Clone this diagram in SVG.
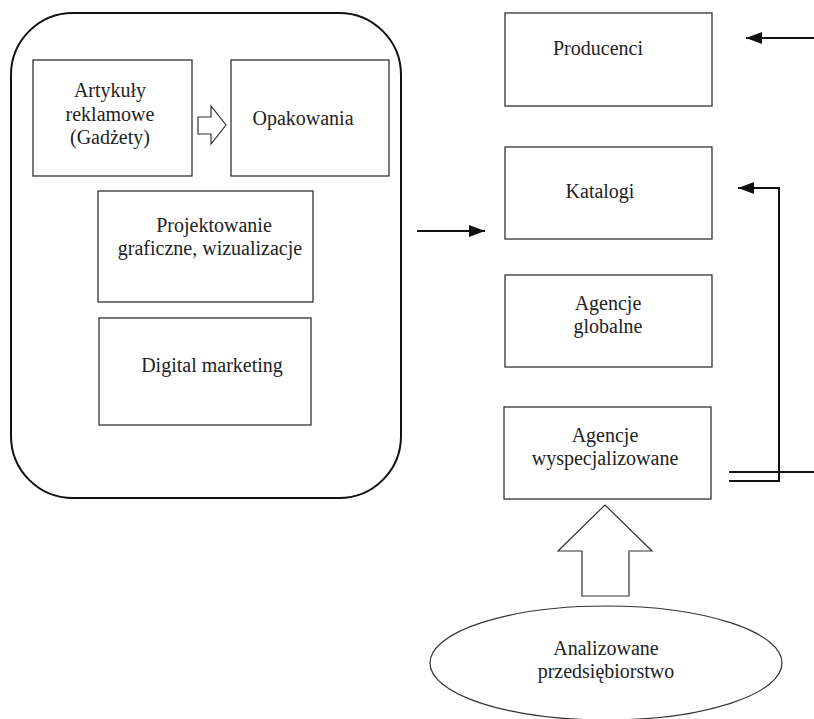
<svg xmlns="http://www.w3.org/2000/svg" width="814" height="719" viewBox="0 0 814 719">
<style>
.box{fill:#fff;stroke:#333;stroke-width:1.3}
.t{font-family:'Liberation Serif','Times New Roman','DejaVu Serif',serif;font-size:20px;fill:#222;text-anchor:middle}
.ln{fill:none;stroke:#111;stroke-width:2}
.hol{fill:#fff;stroke:#333;stroke-width:1.2}
</style>
<defs>
<marker id="ah" markerWidth="16" markerHeight="12" refX="16" refY="6" orient="auto" markerUnits="userSpaceOnUse">
<path d="M0,0 L16,6 L0,12 Z" fill="#111"/>
</marker>
</defs>
<rect width="814" height="719" fill="#fff"/>
<g id="container">
<rect x="11" y="13" width="390" height="485" rx="62" ry="62" fill="none" stroke="#111" stroke-width="2"/>
</g>
<g id="artykuly">
<rect class="box" x="33" y="60" width="159" height="116"/>
<text class="t" x="110" y="97" font-family="Liberation Serif, serif">Artykuły</text>
<text class="t" x="110" y="121" font-family="Liberation Serif, serif">reklamowe</text>
<text class="t" x="110" y="144" font-family="Liberation Serif, serif">(Gadżety)</text>
</g>
<g id="opakowania">
<rect class="box" x="231" y="60" width="158" height="116"/>
<text class="t" x="303" y="125">Opakowania</text>
</g>
<g id="projektowanie">
<rect class="box" x="98" y="191" width="215" height="111"/>
<text class="t" x="214" y="232">Projektowanie</text>
<text class="t" x="210" y="255">graficzne, wizualizacje</text>
</g>
<g id="digital">
<rect class="box" x="99" y="318" width="212" height="107"/>
<text class="t" x="212" y="372">Digital marketing</text>
</g>
<g id="producenci">
<rect class="box" x="505" y="13" width="207" height="93"/>
<text class="t" x="598" y="55">Producenci</text>
</g>
<g id="katalogi">
<rect class="box" x="505" y="147" width="207" height="92"/>
<text class="t" x="600" y="198">Katalogi</text>
</g>
<g id="agencje-globalne">
<rect class="box" x="505" y="275" width="207" height="92"/>
<text class="t" x="608" y="310">Agencje</text>
<text class="t" x="608" y="333">globalne</text>
</g>
<g id="agencje-wyspecjalizowane">
<rect class="box" x="504" y="407" width="207" height="92"/>
<text class="t" x="605" y="442">Agencje</text>
<text class="t" x="605" y="465">wyspecjalizowane</text>
</g>
<g id="analizowane">
<ellipse cx="606" cy="663" rx="176" ry="57" fill="#fff" stroke="#333" stroke-width="1.2"/>
<text class="t" x="606" y="655">Analizowane</text>
<text class="t" x="606" y="678">przedsiębiorstwo</text>
</g>
<g id="connectors">
<path class="hol" d="M198,117 L211,117 L211,106 L226,125 L211,144 L211,134 L198,134 Z"/>
<path class="hol" d="M605,505 L652,551 L629,551 L629,596 L582,596 L582,551 L558,551 Z"/>
<line class="ln" x1="814" y1="38" x2="746" y2="38" marker-end="url(#ah)"/>
<line class="ln" x1="417" y1="231" x2="485" y2="231" marker-end="url(#ah)"/>
<polyline class="ln" points="729,481 779,481 779,188 738,188" marker-end="url(#ah)"/>
<line class="ln" x1="729" y1="472" x2="814" y2="472"/>
</g>
</svg>
